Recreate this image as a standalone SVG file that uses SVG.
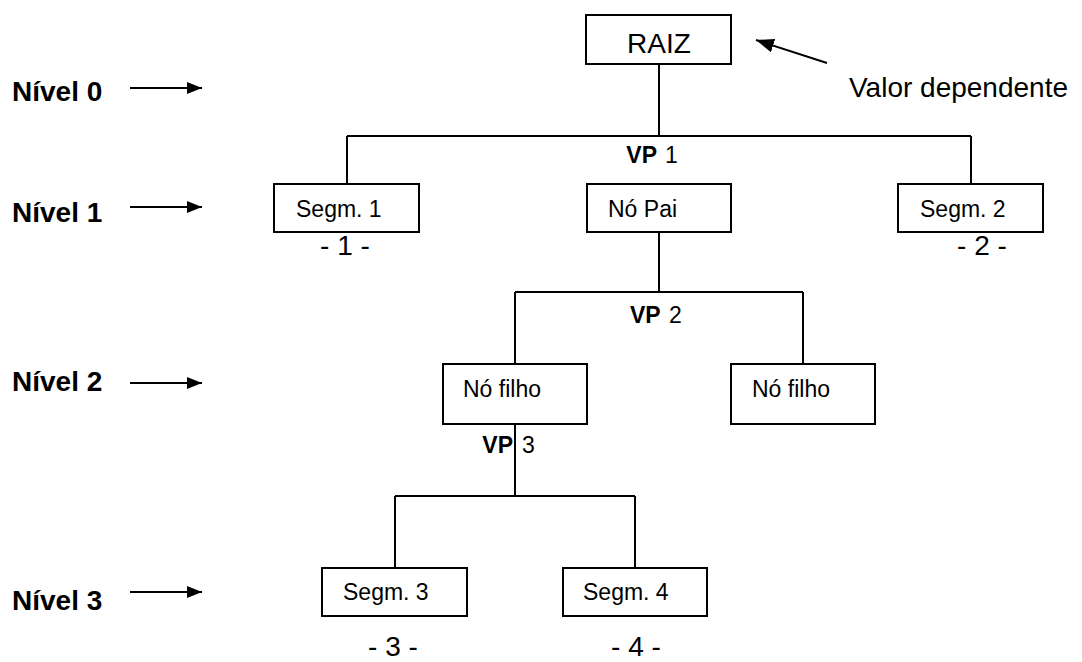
<svg xmlns="http://www.w3.org/2000/svg" width="1082" height="662" viewBox="0 0 1082 662">
<defs>
<style>
.box{fill:#fff;stroke:#000;stroke-width:2}
.ln{fill:none;stroke:#000;stroke-width:2}
.t{font-family:"Liberation Sans",Arial,sans-serif;fill:#000}
.lvl{font-size:28px;font-weight:bold}
.node{font-size:23px}
.big{font-size:28px}
.vp{font-size:23px}
.b{font-weight:bold}
</style>
<marker id="ah" viewBox="0 0 15 12" refX="15" refY="6" markerWidth="15" markerHeight="12" markerUnits="userSpaceOnUse" orient="auto">
<path d="M0,0 L15,6 L0,12 Z" fill="#000"/>
</marker>
<marker id="ah2" viewBox="0 0 18 14" refX="18" refY="7" markerWidth="18" markerHeight="14" markerUnits="userSpaceOnUse" orient="auto">
<path d="M0,0 L18,7 L0,14 Z" fill="#000"/>
</marker>
</defs>
<g id="connectors">
<path class="ln" d="M659,64 V136 M347,136 H971 M347,136 V184 M971,136 V184"/>
<path class="ln" d="M659,219 V292 M515,292 H803 M515,292 V364 M803,292 V364"/>
<path class="ln" d="M515,424 V496 M395,496 H635 M395,496 V568 M635,496 V568"/>
<line class="ln" x1="827" y1="63" x2="756" y2="40" marker-end="url(#ah2)"/>
<line class="ln" x1="130" y1="88" x2="202" y2="88" stroke-width="1.7" marker-end="url(#ah)"/>
<line class="ln" x1="130" y1="207" x2="202" y2="207" stroke-width="1.7" marker-end="url(#ah)"/>
<line class="ln" x1="130" y1="383" x2="202" y2="383" stroke-width="1.7" marker-end="url(#ah)"/>
<line class="ln" x1="130" y1="592" x2="202" y2="592" stroke-width="1.7" marker-end="url(#ah)"/>
</g>
<g id="levels">
<text class="t lvl" x="12" y="101">Nível 0</text>
<text class="t lvl" x="12" y="222">Nível 1</text>
<text class="t lvl" x="12" y="391">Nível 2</text>
<text class="t lvl" x="12" y="610">Nível 3</text>
</g>
<g id="raiz">
<rect class="box" x="586" y="15" width="145" height="49"/>
<text class="t big" x="659" y="53" text-anchor="middle">RAIZ</text>
</g>
<g id="valor">
<text class="t big" x="849" y="97">Valor dependente</text>
</g>
<g id="vp1"><text class="t vp b" x="657" y="163" text-anchor="end">VP</text><text class="t vp" x="665" y="163">1</text></g>
<g id="segm1">
<rect class="box" x="274" y="184" width="145" height="48"/>
<text class="t node" x="296" y="217">Segm. 1</text>
<text class="t big" x="345" y="255" text-anchor="middle">- 1 -</text>
</g>
<g id="nopai">
<rect class="box" x="587" y="184" width="144" height="48"/>
<text class="t node" x="608" y="217">Nó Pai</text>
</g>
<g id="segm2">
<rect class="box" x="898" y="184" width="145" height="48"/>
<text class="t node" x="920" y="217">Segm. 2</text>
<text class="t big" x="982" y="255" text-anchor="middle">- 2 -</text>
</g>
<g id="vp2"><text class="t vp b" x="630" y="323">VP</text><text class="t vp" x="669" y="323">2</text></g>
<g id="nofilho1">
<rect class="box" x="443" y="364" width="144" height="60"/>
<text class="t node" x="463" y="397">Nó filho</text>
</g>
<g id="nofilho2">
<rect class="box" x="731" y="364" width="144" height="60"/>
<text class="t node" x="752" y="397">Nó filho</text>
</g>
<g id="vp3"><text class="t vp b" x="513" y="453" text-anchor="end">VP</text><text class="t vp" x="522" y="453">3</text></g>
<g id="segm3">
<rect class="box" x="322" y="568" width="145" height="48"/>
<text class="t node" x="343" y="600">Segm. 3</text>
<text class="t big" x="393" y="656" text-anchor="middle">- 3 -</text>
</g>
<g id="segm4">
<rect class="box" x="563" y="568" width="144" height="48"/>
<text class="t node" x="583" y="600">Segm. 4</text>
<text class="t big" x="636" y="656" text-anchor="middle">- 4 -</text>
</g>
</svg>
